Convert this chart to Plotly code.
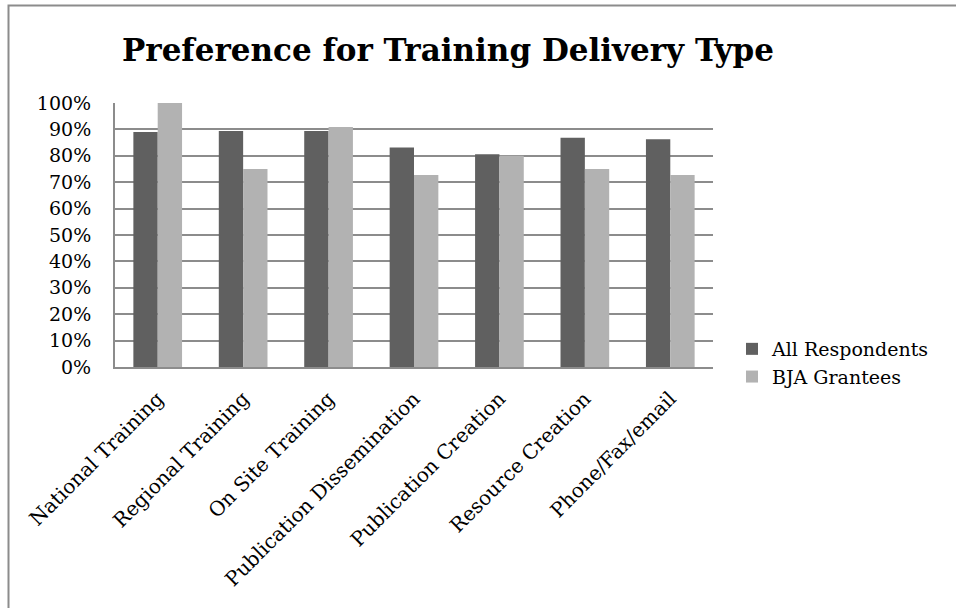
import plotly.graph_objects as go

categories = ["National Training", "Regional Training", "On Site Training",
              "Publication Dissemination", "Publication Creation",
              "Resource Creation", "Phone/Fax/email"]
all_respondents = [0.89, 0.894, 0.894, 0.831, 0.806, 0.868, 0.863]
bja_grantees = [1.00, 0.75, 0.909, 0.727, 0.80, 0.75, 0.727]
tick_vals = [i / 10 for i in range(11)]
tick_text = [f"{i*10}%" for i in range(11)]

FONT = "DejaVu Serif"
fig = go.Figure()
fig.add_bar(x=categories, y=all_respondents, name="All Respondents",
            marker=dict(color="#606060", line=dict(width=0)))
fig.add_bar(x=categories, y=bja_grantees, name="BJA Grantees",
            marker=dict(color="#b2b2b2", line=dict(width=0)))

W, H = 956, 608
L, R, T, B = 115, 713, 103, 367
pw, ph = R - L, B - T

fig.update_layout(
    width=W, height=H,
    margin=dict(l=L, r=W - R, t=T, b=H - B, autoexpand=False),
    paper_bgcolor="white", plot_bgcolor="white",
    barmode="group", bargap=0.43, bargroupgap=0,
    font=dict(family=FONT, color="black", size=18),
    title=dict(text="<b>Preference for Training Delivery Type</b>",
               x=448 / W, xanchor="center", y=1 - 50 / H, yanchor="middle",
               font=dict(family=FONT, size=31, color="black")),
    legend=dict(x=(732 - L) / pw, xanchor="left", y=(B - 363) / ph, yanchor="middle",
                font=dict(family=FONT, size=19),
                bgcolor="rgba(0,0,0,0)"),
    showlegend=True,
    xaxis=dict(tickangle=-45, showline=True, linecolor="#8c8c8c", linewidth=2,
               ticks="", showgrid=False, tickfont=dict(family=FONT, size=20),
               ticklabelstandoff=10, range=[-0.5, 6.5]),
    yaxis=dict(range=[0, 1], tickvals=tick_vals, ticktext=tick_text,
               showgrid=True, gridcolor="#8c8c8c", gridwidth=2,
               showline=True, linecolor="#8c8c8c", linewidth=2,
               ticks="", zeroline=False, tickfont=dict(family=FONT, size=19),
               ticklabelstandoff=18),
    shapes=[dict(type="rect", xref="paper", yref="paper",
                 x0=(8.5 - L) / pw, x1=(W + 10 - L) / pw,
                 y0=(B - H - 10) / ph, y1=(B - 5.5) / ph,
                 line=dict(color="#8c8c8c", width=2), layer="below")],
)
fig.write_html("out.html", config={"displayModeBar": False},
               post_script="document.body.style.margin='0';document.body.style.overflow='hidden';")
